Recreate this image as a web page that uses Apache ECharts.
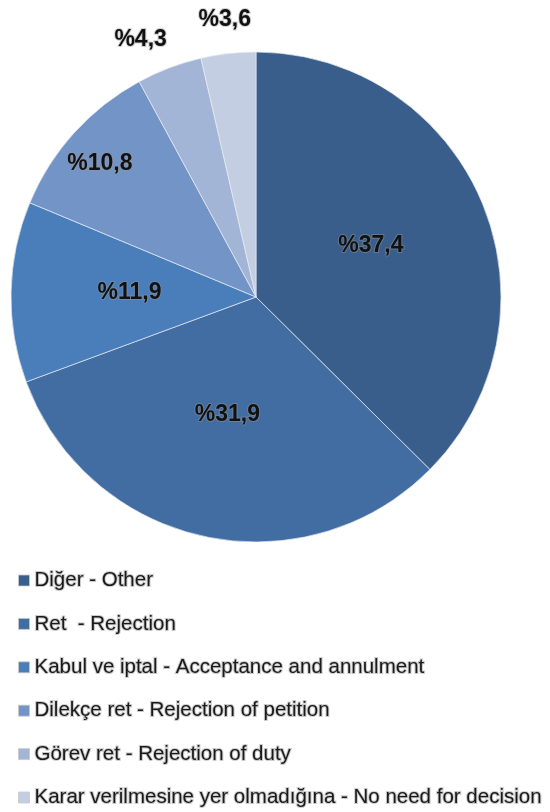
<!DOCTYPE html>
<html>
<head>
<meta charset="utf-8">
<script src="https://cdn.jsdelivr.net/npm/echarts@6/dist/echarts.min.js"></script>
<style>
html,body{margin:0;padding:0;background:#fff;}
#chart{width:550px;height:812px;}
</style>
</head>
<body>
<div id="chart"></div>
<script>
const categories = [
  "Diğer - Other",
  "Ret  - Rejection",
  "Kabul ve iptal - Acceptance and annulment",
  "Dilekçe ret - Rejection of petition",
  "Görev ret - Rejection of duty",
  "Karar verilmesine yer olmadığına - No need for decision"
];
const values = [37.4, 31.9, 11.9, 10.8, 4.3, 3.6];
const labels = ["%37,4", "%31,9", "%11,9", "%10,8", "%4,3", "%3,6"];
const colors = ["#3A5E8C", "#426DA2", "#4A7EBB", "#7394C6", "#A3B5D6", "#C4CEE3"];
const labelOffsets = [[-1, -3], [-2, -5], [-1, -2], [-63, -49], [-71, -140], [-17, -153]];

const chart = echarts.init(document.getElementById('chart'), null, {renderer: 'canvas'});
const data = categories.map((c, i) => ({
  name: c,
  value: values[i],
  itemStyle: {color: colors[i]},
  label: {offset: labelOffsets[i]}
}));

chart.setOption({
  animation: false,
  legend: {
    orient: 'vertical',
    left: 13,
    top: 564,
    height: 260,
    icon: 'rect',
    itemWidth: 11,
    itemHeight: 11,
    itemGap: 20.4,
    textStyle: {
      fontFamily: 'Liberation Sans, Arial, sans-serif',
      fontSize: 20.5,
      lineHeight: 21,
      color: '#1a1a1a',
      textBorderColor: 'rgba(160,160,160,0.55)',
      textBorderWidth: 2
    },
    itemStyle: {borderColor: 'rgba(200,200,200,0.8)', borderWidth: 1}
  },
  series: [{
    type: 'pie',
    center: [256, 297],
    radius: [0, 245],
    startAngle: 90,
    clockwise: true,
    avoidLabelOverlap: false,
    data: data,
    itemStyle: {borderColor: 'rgba(230,235,242,0.7)', borderWidth: 1},
    label: {
      show: true,
      position: 'inside',
      formatter: (p) => labels[p.dataIndex],
      fontFamily: 'Liberation Sans, Arial, sans-serif',
      fontWeight: 'bold',
      fontSize: 23,
      color: '#111',
      textBorderColor: 'rgba(150,150,150,0.45)',
      textBorderWidth: 2
    },
    labelLine: {show: false},
    emphasis: {disabled: true}
  }]
});
</script>
</body>
</html>
